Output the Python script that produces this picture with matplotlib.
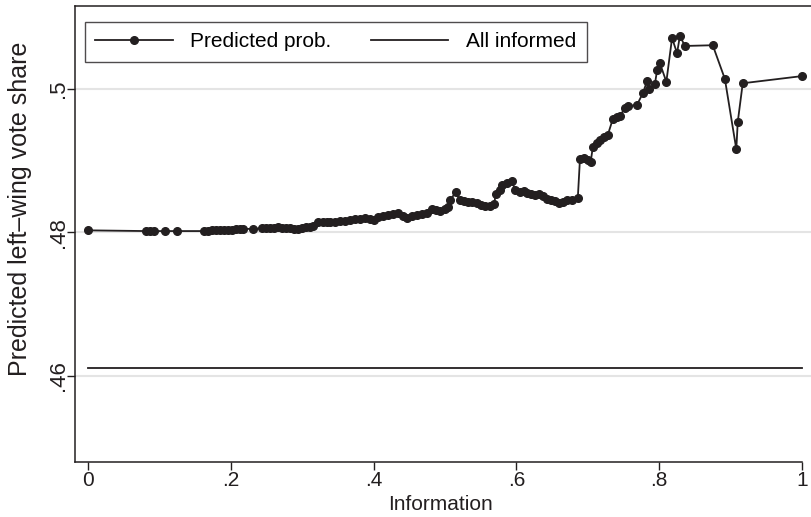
import matplotlib
matplotlib.use("Agg")
import matplotlib.pyplot as plt

plt.rcParams['font.family'] = ['Liberation Sans', 'DejaVu Sans']

# predicted left-wing vote share by information level
info = [
    0.000, 0.081, 0.087, 0.092, 0.108, 0.125, 0.162, 0.168, 0.174, 0.179,
    0.185, 0.190, 0.196, 0.202, 0.207, 0.213, 0.217, 0.231, 0.244, 0.249,
    0.255, 0.261, 0.266, 0.272, 0.277, 0.283, 0.289, 0.294, 0.300, 0.305,
    0.311, 0.315, 0.322, 0.329, 0.335, 0.339, 0.346, 0.353, 0.360, 0.367,
    0.374, 0.381, 0.388, 0.395, 0.401, 0.406, 0.413, 0.420, 0.427, 0.434,
    0.441, 0.447, 0.454, 0.461, 0.468, 0.475, 0.482, 0.487, 0.493, 0.500,
    0.504, 0.507, 0.515, 0.521, 0.527, 0.532, 0.538, 0.545, 0.550, 0.556,
    0.563, 0.569, 0.571, 0.577, 0.580, 0.587, 0.594, 0.598, 0.605, 0.611,
    0.615, 0.620, 0.626, 0.632, 0.637, 0.643, 0.648, 0.654, 0.660, 0.665,
    0.671, 0.678, 0.686, 0.689, 0.695, 0.700, 0.704, 0.707, 0.713, 0.717,
    0.723, 0.728, 0.735, 0.741, 0.745, 0.752, 0.756, 0.769, 0.777, 0.783,
    0.786, 0.794, 0.797, 0.801, 0.810, 0.818, 0.825, 0.829, 0.836, 0.875,
    0.892, 0.908, 0.910, 0.917, 1.000,
]
predicted = [
    0.4803, 0.4802, 0.4802, 0.4802, 0.4802, 0.4802, 0.4802, 0.4802, 0.4803, 0.4803,
    0.4803, 0.4804, 0.4804, 0.4804, 0.4805, 0.4805, 0.4805, 0.4805, 0.4806, 0.4806,
    0.4806, 0.4806, 0.4807, 0.4806, 0.4806, 0.4806, 0.4805, 0.4805, 0.4806, 0.4807,
    0.4808, 0.4809, 0.4814, 0.4814, 0.4815, 0.4815, 0.4815, 0.4816, 0.4816, 0.4817,
    0.4819, 0.4819, 0.4820, 0.4819, 0.4817, 0.4822, 0.4823, 0.4824, 0.4826, 0.4827,
    0.4823, 0.4820, 0.4823, 0.4824, 0.4826, 0.4827, 0.4833, 0.4831, 0.4830, 0.4833,
    0.4836, 0.4845, 0.4856, 0.4845, 0.4844, 0.4843, 0.4843, 0.4841, 0.4838, 0.4837,
    0.4837, 0.4840, 0.4854, 0.4859, 0.4866, 0.4869, 0.4872, 0.4859, 0.4856, 0.4858,
    0.4855, 0.4854, 0.4852, 0.4854, 0.4851, 0.4847, 0.4845, 0.4844, 0.4841, 0.4843,
    0.4845, 0.4845, 0.4848, 0.4902, 0.4904, 0.4901, 0.4898, 0.4919, 0.4925, 0.4929,
    0.4933, 0.4936, 0.4958, 0.4961, 0.4962, 0.4974, 0.4976, 0.4978, 0.4994, 0.5011,
    0.5000, 0.5007, 0.5026, 0.5036, 0.5010, 0.5071, 0.5050, 0.5074, 0.5060, 0.5061,
    0.5014, 0.4916, 0.4954, 0.5008, 0.5018,
]

# benchmark: everyone informed
informed_x = [0.0, 1.0]
informed_y = [0.4611, 0.4611]

x_ticks = [0, 0.2, 0.4, 0.6, 0.8, 1.0]
x_tick_labels = ['0', '.2', '.4', '.6', '.8', '1']
y_ticks = [0.46, 0.48, 0.50]
y_tick_labels = ['.46', '.48', '.5']

ink = '#231f20'
fs = 15

fig = plt.figure(figsize=(8.11, 5.17), dpi=100)
ax = fig.add_axes([75 / 811, 1 - 462 / 517, 736 / 811, 456 / 517])

ax.plot(info, predicted, color=ink, lw=1.3, marker='o', ms=5.5,
        label='Predicted prob.', zorder=3)
ax.plot(informed_x, informed_y, color=ink, lw=1.3, label='All informed', zorder=3)

ax.set_xlim(-0.0182, 1.0126)
ax.set_ylim(0.44801, 0.51157)

ax.set_xticks(x_ticks)
ax.set_xticklabels(x_tick_labels, fontsize=fs)
ax.set_yticks(y_ticks)
ax.set_yticklabels(y_tick_labels, fontsize=16, rotation=90, va='center')
ax.tick_params(direction='out', length=5.5, width=1, color=ink, labelcolor=ink, pad=1)
ax.tick_params(axis='y', pad=-1.5)

ax.grid(axis='y', color='#e4e4e4', lw=1.5, zorder=0)
ax.set_axisbelow(True)

for side in ['left', 'top', 'bottom']:
    ax.spines[side].set_color(ink)
    ax.spines[side].set_linewidth(1.1)
ax.spines['right'].set_visible(False)
ax.spines['bottom'].set_bounds(-0.0182, 1.0)

ax.set_xlabel('Information', fontsize=fs, color=ink)
ax.xaxis.set_label_coords((441 - 75) / 736, -(505 - 462) / 456)
ax.xaxis.label.set_va('center')
ax.set_ylabel('Predicted left\u2013wing vote share', fontsize=18, color=ink)
ax.yaxis.set_label_coords((20 - 75) / 736, (462 - 209) / 456)
ax.yaxis.label.set_va('center')

leg = ax.legend(loc='upper left', bbox_to_anchor=(0.0136, 0.965), ncol=2,
                fontsize=fs, frameon=True, fancybox=False, handlelength=3.7,
                columnspacing=1.9, borderpad=0.5, borderaxespad=0,
                handletextpad=0.85)
leg.get_frame().set_edgecolor(ink)
leg.get_frame().set_linewidth(1.0)

fig.savefig('out.png', dpi=100)
